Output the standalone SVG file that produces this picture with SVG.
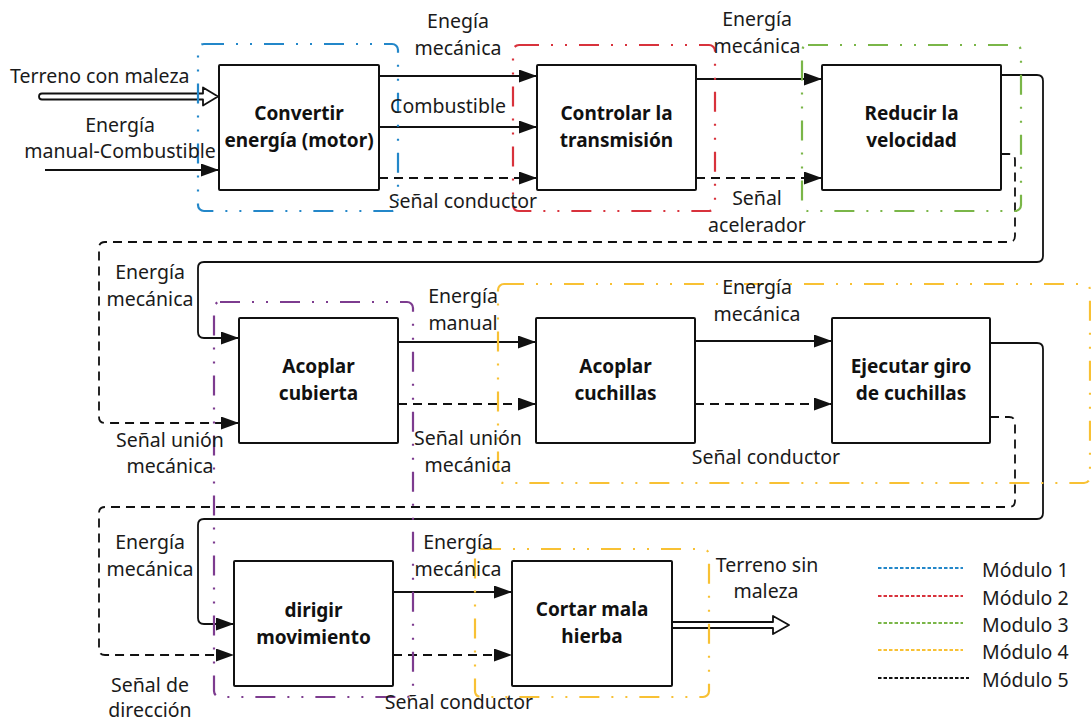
<svg xmlns="http://www.w3.org/2000/svg" width="1091" height="724" viewBox="0 0 1091 724">
<style>
.node rect{fill:#fff;stroke:#111;stroke-width:2}
.node text{font-family:"Noto Sans","Open Sans",sans-serif;font-weight:bold;font-size:19px;fill:#111;text-anchor:middle}
.lbl{font-family:"Noto Sans","Open Sans",sans-serif;font-size:19.5px;fill:#1a1a1a}
.c{text-anchor:middle}
.sol{fill:none;stroke:#111;stroke-width:1.8}
.dsh{fill:none;stroke:#111;stroke-width:1.8;stroke-dasharray:9 6}
.mod{fill:none;stroke-width:2.2;stroke-dasharray:20 12 2 12 2 12}
.leg{stroke-width:2;stroke-dasharray:3.5 2}
.hollow{fill:#fff;stroke:#111;stroke-width:1.8;stroke-linejoin:round}
</style>
<defs>
<marker id="ah" markerUnits="userSpaceOnUse" markerWidth="19" markerHeight="14" refX="18" refY="6.5" orient="auto">
<path d="M0,0 L18,6.5 L0,13 Z" fill="#111"/>
</marker>
</defs>
<rect width="1091" height="724" fill="#fff"/>
<g id="connectors">
<path class="hollow" d="M42,93.5 H203 V87.5 L218,96.5 L203,105.5 V99.5 H42 A3,3 0 0 1 42,93.5 Z"/>
<path class="sol" d="M45,170 H219" marker-end="url(#ah)"/>
<path class="sol" d="M379,76 H537" marker-end="url(#ah)"/>
<path class="sol" d="M379,127 H537" marker-end="url(#ah)"/>
<path class="dsh" d="M379,178 H537" marker-end="url(#ah)"/>
<path class="sol" d="M696,79 H822" marker-end="url(#ah)"/>
<path class="dsh" d="M696,178 H822" marker-end="url(#ah)"/>
<path class="sol" d="M1001,75 H1037 Q1043,75 1043,81 V256 Q1043,262 1037,262 H204 Q198,262 198,268 V332 Q198,338 204,338 H239" marker-end="url(#ah)"/>
<path class="dsh" d="M1001,154 H1009 Q1015,154 1015,160 V236 Q1015,242 1009,242 H105 Q99,242 99,248 V417 Q99,423 105,423 H239" marker-end="url(#ah)"/>
<path class="sol" d="M398,342 H536" marker-end="url(#ah)"/>
<path class="dsh" d="M398,404 H536" marker-end="url(#ah)"/>
<path class="sol" d="M695,341 H832" marker-end="url(#ah)"/>
<path class="dsh" d="M695,404 H832" marker-end="url(#ah)"/>
<path class="sol" d="M990,343 H1037 Q1043,343 1043,349 V513 Q1043,519 1037,519 H204 Q198,519 198,525 V618 Q198,624 204,624 H234" marker-end="url(#ah)"/>
<path class="dsh" d="M990,417 H1009 Q1015,417 1015,423 V501 Q1015,507 1009,507 H105 Q99,507 99,513 V649 Q99,655 105,655 H234" marker-end="url(#ah)"/>
<path class="sol" d="M393,592 H512" marker-end="url(#ah)"/>
<path class="dsh" d="M393,655 H512" marker-end="url(#ah)"/>
<path class="hollow" d="M672,622 H773 V616 L789,625 L773,634 V628 H672 Z"/>
</g>
<g id="modules">
<rect class="mod" x="198" y="44" width="200" height="167" rx="6" stroke="#2387C9"/>
<rect class="mod" x="513" y="45" width="202" height="166" rx="6" stroke="#D8323C"/>
<rect class="mod" x="802" y="45" width="219" height="166" rx="6" stroke="#7AB648"/>
<rect class="mod" x="498" y="284" width="592" height="199" rx="6" stroke="#F8C134"/>
<rect class="mod" x="475" y="549" width="234" height="148" rx="6" stroke="#F8C134"/>
<rect class="mod" x="214" y="302" width="199" height="395" rx="6" stroke="#7D3C8F"/>
</g>
<g id="n1" class="node"><rect x="219" y="65" width="160" height="125" rx="1"/><text x="299" y="120">Convertir</text><text x="299" y="147">energía (motor)</text></g>
<g id="n2" class="node"><rect x="537" y="65" width="159" height="125" rx="1"/><text x="616.5" y="120">Controlar la</text><text x="616.5" y="147">transmisión</text></g>
<g id="n3" class="node"><rect x="822" y="65" width="179" height="125" rx="1"/><text x="911.5" y="120">Reducir la</text><text x="911.5" y="147">velocidad</text></g>
<g id="n4" class="node"><rect x="239" y="318" width="159" height="125" rx="1"/><text x="318.5" y="373">Acoplar</text><text x="318.5" y="400">cubierta</text></g>
<g id="n5" class="node"><rect x="536" y="318" width="159" height="125" rx="1"/><text x="615.5" y="373">Acoplar</text><text x="615.5" y="400">cuchillas</text></g>
<g id="n6" class="node"><rect x="832" y="318" width="158" height="125" rx="1"/><text x="911" y="373">Ejecutar giro</text><text x="911" y="400">de cuchillas</text></g>
<g id="n7" class="node"><rect x="234" y="561" width="159" height="125" rx="1"/><text x="313.5" y="617">dirigir</text><text x="313.5" y="644">movimiento</text></g>
<g id="n8" class="node"><rect x="512" y="561" width="160" height="125" rx="1"/><text x="592" y="616">Cortar mala</text><text x="592" y="643">hierba</text></g>
<g id="labels" class="lbl">
<text x="10" y="83">Terreno con maleza</text>
<text class="c" x="120" y="132">Energía</text>
<text class="c" x="120" y="158">manual-Combustible</text>
<text class="c" x="458" y="28">Enegía</text>
<text class="c" x="458" y="55">mecánica</text>
<text class="c" x="448" y="113">Combustible</text>
<text class="c" x="463" y="208">Señal conductor</text>
<text class="c" x="757" y="26">Energía</text>
<text class="c" x="757" y="53">mecánica</text>
<text class="c" x="757" y="205">Señal</text>
<text class="c" x="757" y="232">acelerador</text>
<text class="c" x="150" y="279">Energía</text>
<text class="c" x="150" y="306">mecánica</text>
<text class="c" x="463" y="303">Energía</text>
<text class="c" x="463" y="330">manual</text>
<text class="c" x="170" y="447">Señal unión</text>
<text class="c" x="170" y="473">mecánica</text>
<text class="c" x="468" y="445">Señal unión</text>
<text class="c" x="468" y="472">mecánica</text>
<text class="c" x="757" y="294">Energía</text>
<text class="c" x="757" y="321">mecánica</text>
<text class="c" x="766" y="464">Señal conductor</text>
<text class="c" x="150" y="549">Energía</text>
<text class="c" x="150" y="576">mecánica</text>
<text class="c" x="458" y="549">Energía</text>
<text class="c" x="458" y="576">mecánica</text>
<text class="c" x="150" y="692">Señal de</text>
<text class="c" x="150" y="717">dirección</text>
<text class="c" x="459" y="709">Señal conductor</text>
<text class="c" x="767" y="572">Terreno sin</text>
<text class="c" x="766" y="598">maleza</text>
</g>
<g id="legend">
<line class="leg" x1="878" y1="568" x2="963" y2="568" stroke="#2387C9"/>
<line class="leg" x1="878" y1="596" x2="963" y2="596" stroke="#D8323C"/>
<line class="leg" x1="878" y1="623" x2="963" y2="623" stroke="#7AB648"/>
<line class="leg" x1="878" y1="650" x2="963" y2="650" stroke="#F8C134"/>
<line class="leg" x1="878" y1="678" x2="969" y2="678" stroke="#111"/>
<g class="lbl">
<text x="982" y="577">Módulo 1</text>
<text x="982" y="605">Módulo 2</text>
<text x="982" y="632">Modulo 3</text>
<text x="982" y="659">Módulo 4</text>
<text x="982" y="687">Módulo 5</text>
</g>
</g>
</svg>
